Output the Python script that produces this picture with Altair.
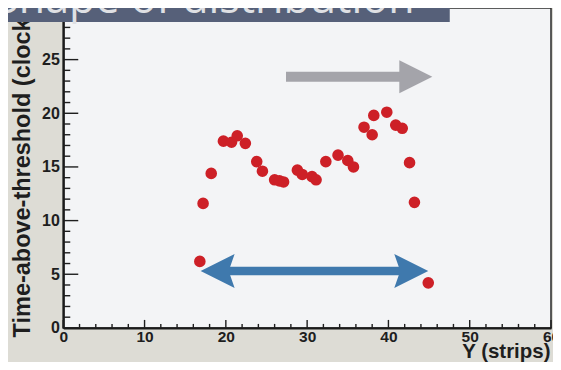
import altair as alt
import pandas as pd

# ---- data ----
strip = [16.8, 17.2, 18.2, 19.7, 20.7, 21.4, 22.4, 23.8, 24.5, 26.0, 26.6, 27.1,
         28.8, 29.4, 30.6, 31.1, 32.3, 33.8, 35.0, 35.7, 37.0, 38.0, 38.2, 39.8,
         40.9, 41.7, 42.6, 43.2, 44.9]
tot = [6.2, 11.6, 14.4, 17.4, 17.3, 17.9, 17.2, 15.5, 14.6, 13.8, 13.7, 13.6,
       14.7, 14.3, 14.1, 13.8, 15.5, 16.1, 15.6, 15.0, 18.7, 18.0, 19.8, 20.1,
       18.9, 18.6, 15.4, 11.7, 4.2]

x_major = [0, 10, 20, 30, 40, 50, 60]
x_minor = [2, 4, 6, 8, 12, 14, 16, 18, 22, 24, 26, 28, 32, 34, 36, 38,
           42, 44, 46, 48, 52, 54, 56, 58]
y_major = [0, 5, 10, 15, 20, 25]
y_minor = [1, 2, 3, 4, 6, 7, 8, 9, 11, 12, 13, 14, 16, 17, 18, 19,
           21, 22, 23, 24, 26, 27, 28, 29]

# annotation arrows (data units)
gray_shaft_x = [27.4, 43.0]
gray_tip_x = [45.4]
gray_y = 23.4
blue_shaft_x = [18.5, 43.3]
blue_left_tip_x = [16.9]
blue_right_tip_x = [44.9]
blue_y = 5.3

title_text = "Shape of distribution"

W, H = 488, 320
xs = alt.Scale(domain=[0, 60], nice=False, zero=False)
ys = alt.Scale(domain=[0, 29.8], nice=False, zero=False)

one = pd.DataFrame({"a": [0]})

x_axis = alt.Axis(
    values=x_major, ticks=False, grid=False, domain=True, domainWidth=2.2,
    domainColor="#1a1a1a", labelFont="Liberation Sans", labelFontWeight="bold",
    labelFontSize=15.5, labelColor="#1e1e1e", labelPadding=2, labelFlush=False,
    labelOverlap=False, titleFont="Liberation Sans",
    titleFontWeight="bold", titleFontSize=20.5, titleColor="#1e1e1e",
    titleAlign="right", titleBaseline="alphabetic", titleX=487, titleY=29.5,
    format="d")
y_axis = alt.Axis(
    values=y_major, ticks=False, grid=False, domain=True, domainWidth=2.2,
    domainColor="#1a1a1a", labelFont="Liberation Sans", labelFontWeight="bold",
    labelFontSize=16, labelColor="#1e1e1e", labelPadding=4, labelFlush=False,
    labelOverlap=False, titleFont="Liberation Sans", titleFontWeight="bold",
    titleFontSize=23.5, titleColor="#1e1e1e", titleAngle=-90, titleAlign="left",
    titleBaseline="alphabetic", titleX=-34, titleY=329, format="d")

XT = "Y (strips)"
YT = "Time-above-threshold (clocks)"


def X(f):
    return alt.X(f, scale=xs, axis=x_axis, title=XT)


def Y(f):
    return alt.Y(f, scale=ys, axis=y_axis, title=YT)


banner = alt.Chart(one).mark_rect(color="#566079").encode(
    x=alt.value(-70), x2=alt.value(386.7), y=alt.value(-10), y2=alt.value(14)
)
banner_text = alt.Chart(one).mark_text(
    text=title_text, font="Open Sans", fontSize=43, color="#dfe0e4",
    align="left", baseline="alphabetic"
).encode(x=alt.value(-68), y=alt.value(4.5))

tick_color = "#1e1e1e"
xmaj = alt.Chart(pd.DataFrame({"v": x_major})).mark_rule(color=tick_color, strokeWidth=1.4).encode(
    x=X("v:Q"), y=alt.value(H), y2=alt.value(H - 8))
xmin = alt.Chart(pd.DataFrame({"v": x_minor})).mark_rule(color=tick_color, strokeWidth=1.4).encode(
    x=X("v:Q"), y=alt.value(H), y2=alt.value(H - 4))
ymaj = alt.Chart(pd.DataFrame({"v": y_major})).mark_rule(color=tick_color, strokeWidth=1.4).encode(
    y=Y("v:Q"), x=alt.value(0), x2=alt.value(15))
ymin = alt.Chart(pd.DataFrame({"v": y_minor})).mark_rule(color=tick_color, strokeWidth=1.4).encode(
    y=Y("v:Q"), x=alt.value(0), x2=alt.value(7))

gray_df = pd.DataFrame({"x": gray_shaft_x, "y": [gray_y] * len(gray_shaft_x)})
gray_shaft = alt.Chart(gray_df).mark_line(color="#a4a4aa", strokeWidth=10, strokeCap="butt").encode(
    x=X("x:Q"), y=Y("y:Q"))
gray_head = alt.Chart(pd.DataFrame({"x": gray_tip_x, "y": [gray_y]})).mark_point(
    shape="M0,0L-2,-1L-2,1Z", size=1089, filled=True, color="#a4a4aa", opacity=1
).encode(x=X("x:Q"), y=Y("y:Q"))

blue = "#3f79ad"
blue_df = pd.DataFrame({"x": blue_shaft_x, "y": [blue_y] * len(blue_shaft_x)})
blue_shaft = alt.Chart(blue_df).mark_line(color=blue, strokeWidth=8.5, strokeCap="butt").encode(
    x=X("x:Q"), y=Y("y:Q"))
blue_head_r = alt.Chart(pd.DataFrame({"x": blue_right_tip_x, "y": [blue_y]})).mark_point(
    shape="M0,0L-2,-1L-1.65,0L-2,1Z", size=1156, filled=True, color=blue, opacity=1
).encode(x=X("x:Q"), y=Y("y:Q"))
blue_head_l = alt.Chart(pd.DataFrame({"x": blue_left_tip_x, "y": [blue_y]})).mark_point(
    shape="M0,0L2,-1L1.65,0L2,1Z", size=1156, filled=True, color=blue, opacity=1
).encode(x=X("x:Q"), y=Y("y:Q"))

pts_df = pd.DataFrame({"strip": strip, "tot": tot})
points = alt.Chart(pts_df).mark_circle(size=135, color="#cd2027", opacity=1).encode(
    x=X("strip:Q"), y=Y("tot:Q"))

chart = alt.layer(
    points, xmin, xmaj, ymin, ymaj, gray_shaft, gray_head, blue_shaft, blue_head_l,
    blue_head_r, banner, banner_text
).properties(
    width=W, height=H,
    autosize=alt.AutoSizeParams(type="none"),
    padding={"left": 55.3, "top": 0, "right": 2, "bottom": 34},
).configure(
    background="#dddcd5"
).configure_view(
    fill="#f3f4f6", stroke="#2a2a2a", strokeWidth=1.5
)

chart.save("out.html", embed_options={"renderer": "svg", "actions": False})
